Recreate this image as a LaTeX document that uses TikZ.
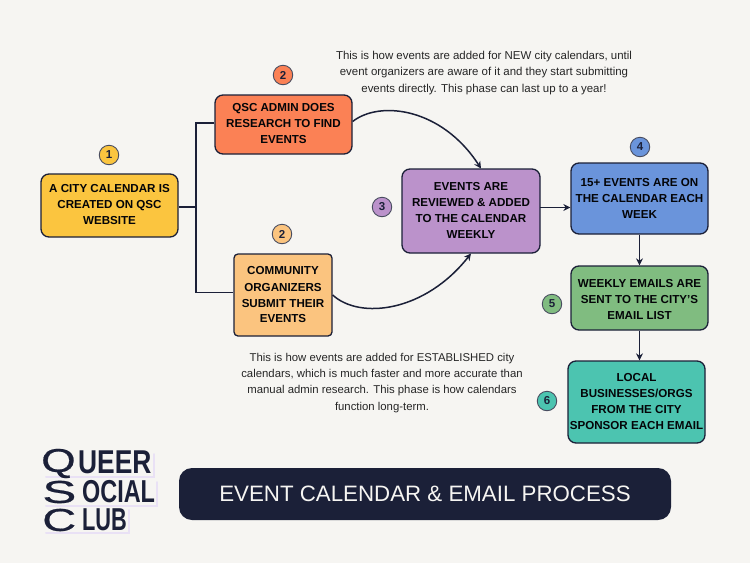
\documentclass[tikz,border=0pt]{standalone}
\usepackage{fontspec}
\setmainfont{Liberation Sans}
\newfontfamily\logofont[FakeBold=0.6]{Liberation Sans}
\usetikzlibrary{arrows.meta}
\definecolor{bgc}{HTML}{F6F5F2}
\definecolor{inkc}{HTML}{1B2038}
\definecolor{yel}{HTML}{FBC53F}
\definecolor{ora}{HTML}{FB8155}
\definecolor{pea}{HTML}{FBC47F}
\definecolor{pur}{HTML}{BB92CB}
\definecolor{blu}{HTML}{6A94DB}
\definecolor{gre}{HTML}{80BC80}
\definecolor{tea}{HTML}{4CC4B0}
\definecolor{shad}{HTML}{E9E1F5}
\newcommand\dnz{\rule[-2pt]{0pt}{0pt}}
\newcommand\upz{\rule{0pt}{10.5pt}}
\tikzset{
  boxn/.style={draw=inkc,line width=1.3pt,rounded corners=8pt,align=center,inner sep=0pt,
    font=\fontsize{11.6}{16}\selectfont\bfseries,text=black!85!inkc},
  numc/.style={draw=inkc!80,line width=0.9pt,circle,minimum size=19.5pt,inner sep=0pt,
    font=\fontsize{11.5}{12}\selectfont\bfseries,text=inkc},
  conn/.style={draw=inkc,line width=1.5pt},
  arr/.style={conn,-{Stealth[length=7pt,width=7pt]}},
  notet/.style={align=center,inner sep=0pt,text=black!85},
  logob/.style={inner sep=0pt,anchor=west,text=inkc,font=\fontsize{33}{33}\selectfont\bfseries},
  logow/.style={inner sep=0pt,anchor=west,text=inkc,font=\fontsize{33}{33}\logofont},
  glowbar/.style={draw=shad,line width=2pt,line cap=round},
}
\begin{document}
\begin{tikzpicture}[x=1pt,y=-1pt]
\useasboundingbox (0,0) rectangle (750,563);
\fill[bgc] (0,0) rectangle (750,563);
% boxes
\node[boxn,fill=yel,minimum width=137pt,minimum height=63pt] (city) at (109.5,205.5) {A CITY CALENDAR IS\\CREATED ON QSC\\WEBSITE\dnz};
\node[boxn,fill=ora,minimum width=137pt,minimum height=59pt] (qsc) at (283.5,124.5) {QSC ADMIN DOES\\RESEARCH TO FIND\\EVENTS\dnz};
\node[boxn,fill=pea,minimum width=98pt,minimum height=82pt,rounded corners=4pt] (comm) at (283,295) {COMMUNITY\\ORGANIZERS\\SUBMIT THEIR\\EVENTS};
\node[boxn,fill=pur,minimum width=138pt,minimum height=84pt] (rev) at (471,211) {EVENTS ARE\\REVIEWED \& ADDED\\TO THE CALENDAR\\WEEKLY\dnz};
\node[boxn,fill=blu,minimum width=137pt,minimum height=71pt] (week) at (639.5,198.5) {15+ EVENTS ARE ON\\THE CALENDAR EACH\\WEEK};
\node[boxn,fill=gre,minimum width=137pt,minimum height=64pt] (mail) at (639.5,298) {\upz WEEKLY EMAILS ARE\\SENT TO THE CITY’S\\EMAIL LIST};
\node[boxn,fill=tea,minimum width=137pt,minimum height=82pt] (spon) at (636.5,402) {LOCAL\\BUSINESSES/ORGS\\FROM THE CITY\\SPONSOR EACH EMAIL\dnz};
% number badges
\node[numc,fill=yel] (n1) at (109,155) {1};
\node[numc,fill=ora] (n2a) at (283,75) {2};
\node[numc,fill=pea] (n2b) at (282,234) {2};
\node[numc,fill=pur] (n3) at (382,207) {3};
\node[numc,fill=blu] (n4) at (640,147) {4};
\node[numc,fill=gre] (n5) at (552,304) {5};
\node[numc,fill=tea] (n6) at (547,401) {6};
% connectors
\coordinate (tmid) at (196,207);
\coordinate (ttop) at (196,123);
\coordinate (tbot) at (196,292.5);
\coordinate (rw) at (540,207.5);
\coordinate (topin) at (481,168.5);
\coordinate (botin) at (471,253.5);
\draw[conn] ([yshift=-1.5pt]city.east) -- (tmid);
\draw[conn] (qsc.west |- ttop) -- (ttop) -- (tbot) -- (comm.west |- tbot);
\draw[arr] ([yshift=3pt]qsc.east) .. controls (380,100) and (442,108) .. (topin);
\draw[arr] (comm.east) .. controls (360,320) and (425,312) .. (botin);
\draw[arr] (rw) -- (week.west |- rw);
\draw[arr] (week.south) -- (week.south |- mail.north);
\draw[arr] (mail.south) -- (mail.south |- spon.north);
% notes
\node[notet,font=\fontsize{11.45}{16.2}\selectfont] (note1) at (484,73) {This is how events are added for NEW city calendars, until\\event organizers are aware of it and they start submitting\\events directly. This phase can last up to a year!};
\node[notet,font=\fontsize{11.35}{16.1}\selectfont] (note2) at (382,383) {This is how events are added for ESTABLISHED city\\calendars, which is much faster and more accurate than\\manual admin research. This phase is how calendars\\function long-term.};
% banner
\node[fill=inkc,rounded corners=13pt,minimum width=492pt,minimum height=52pt,inner sep=0pt,text=bgc,
  font=\fontsize{22.3}{24}\selectfont] (banner) at (425,494) {EVENT CALENDAR \& EMAIL PROCESS};
% logo glow
\draw[glowbar] (46,476.5) -- (154,476.5) -- (154,454);
\draw[glowbar] (46,506) -- (157,506) -- (157,482);
\draw[glowbar] (46,533) -- (129,533) -- (129,510);
% logo
\node[logow,xscale=1.34,yscale=1.0] (lq) at (41,463.5) {Q};
\node[logob,xscale=0.8] (lu) at (78,462.5) {UEER};
\node[logow,xscale=1.55,yscale=0.96] (ls) at (42,492) {S};
\node[logob,xscale=0.71,yscale=0.96] (lo) at (82,492) {OCIAL};
\node[logow,xscale=1.42,yscale=0.96] (lc) at (42,520) {C};
\node[logob,xscale=0.66,yscale=0.96] (ll) at (82,520) {LUB};
\end{tikzpicture}
\end{document}
